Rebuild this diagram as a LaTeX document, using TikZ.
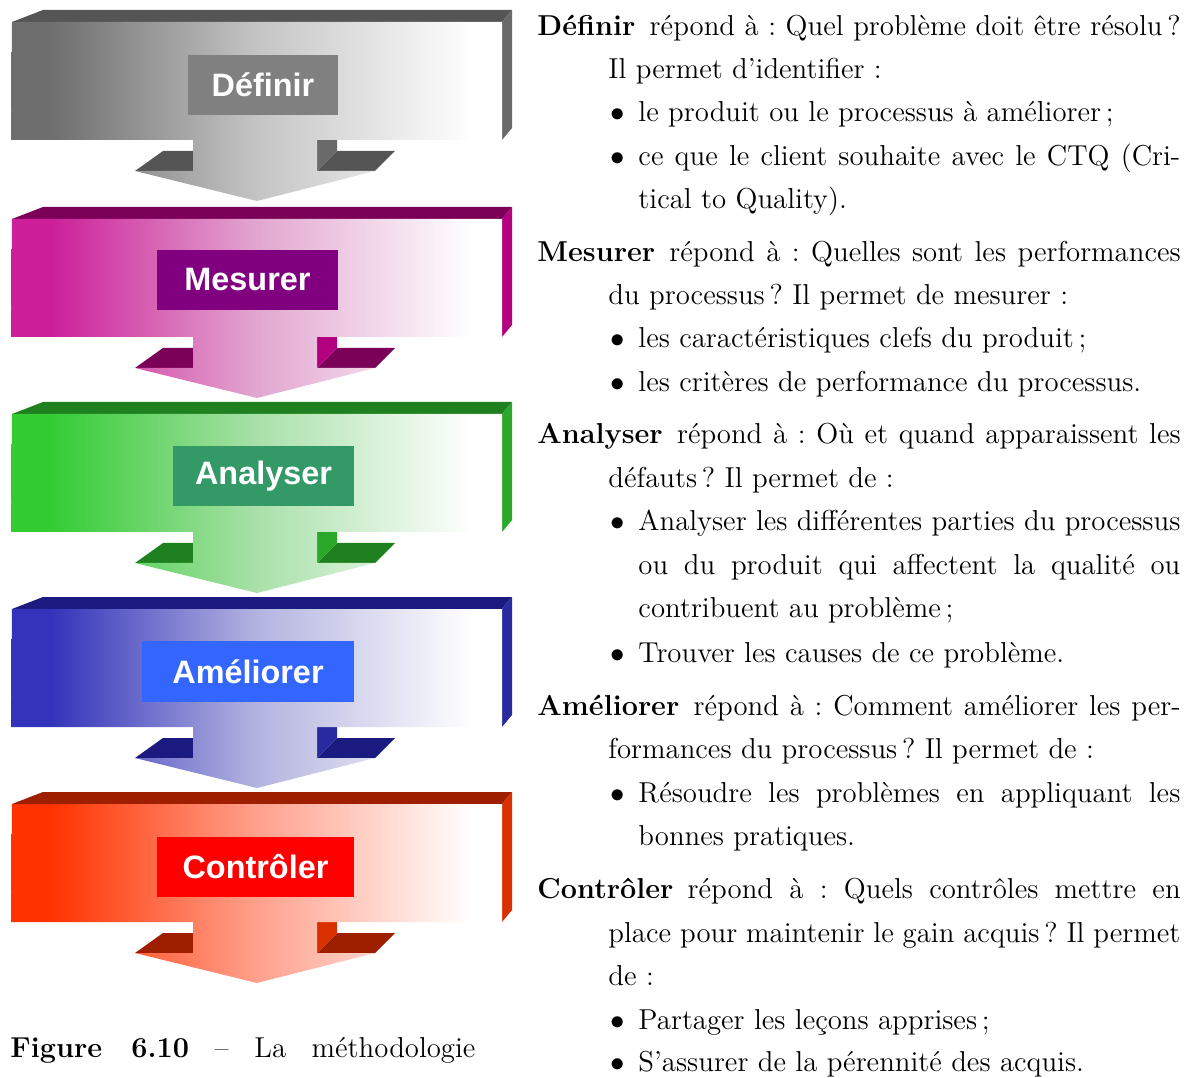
\documentclass[tikz,border=0pt]{standalone}
\usepackage{fontspec}
\newfontfamily\lblfont{Liberation Sans}
\definecolor{dL}{HTML}{6E6E6E}\definecolor{dM}{HTML}{C4C4C4}\definecolor{dT}{HTML}{555555}\definecolor{dS}{HTML}{6A6A6A}\definecolor{dB}{HTML}{808080}
\definecolor{mL}{HTML}{CC1F99}\definecolor{mM}{HTML}{E2A6CF}\definecolor{mT}{HTML}{7A0058}\definecolor{mS}{HTML}{B3007F}\definecolor{mB}{HTML}{800080}
\definecolor{aL}{HTML}{33CC33}\definecolor{aM}{HTML}{A9E0A9}\definecolor{aT}{HTML}{1F801F}\definecolor{aS}{HTML}{29A829}\definecolor{aB}{HTML}{339966}
\definecolor{eL}{HTML}{3333BB}\definecolor{eM}{HTML}{B3B3E0}\definecolor{eT}{HTML}{1A1A80}\definecolor{eS}{HTML}{2A2AA0}\definecolor{eB}{HTML}{3366FF}
\definecolor{cL}{HTML}{FF3300}\definecolor{cM}{HTML}{FFA08C}\definecolor{cT}{HTML}{9E1F00}\definecolor{cS}{HTML}{D93000}\definecolor{cB}{HTML}{FF0000}
\pgfdeclarehorizontalshading{shd}{100bp}{color(0bp)=(dL); color(29bp)=(dL); color(50bp)=(dM); color(72bp)=(white); color(100bp)=(white)}
\pgfdeclarehorizontalshading{shm}{100bp}{color(0bp)=(mL); color(29bp)=(mL); color(50bp)=(mM); color(72bp)=(white); color(100bp)=(white)}
\pgfdeclarehorizontalshading{sha}{100bp}{color(0bp)=(aL); color(29bp)=(aL); color(50bp)=(aM); color(72bp)=(white); color(100bp)=(white)}
\pgfdeclarehorizontalshading{she}{100bp}{color(0bp)=(eL); color(29bp)=(eL); color(50bp)=(eM); color(72bp)=(white); color(100bp)=(white)}
\pgfdeclarehorizontalshading{shc}{100bp}{color(0bp)=(cL); color(29bp)=(cL); color(50bp)=(cM); color(72bp)=(white); color(100bp)=(white)}
% #1 top y, #2 shading, #3 top colour, #4 side colour
\newcommand\dmaicblock[4]{%
  \fill[#3] (12,{#1+12}) -- (43,{#1}) -- (512,{#1}) -- (502,{#1+12}) -- cycle;
  \fill[#4] (502,{#1+12}) -- (512,{#1}) -- (512,{#1+118}) -- (502,{#1+130}) -- cycle;
  \fill[#3] (135,{#1+161}) -- (163,{#1+141}) -- (193,{#1+141}) -- (193,{#1+161}) -- cycle;
  \fill[#3] (317,{#1+161}) -- (337,{#1+141}) -- (395,{#1+141}) -- (375,{#1+161}) -- cycle;
  \fill[#4] (317,{#1+130}) -- (337,{#1+130}) -- (337,{#1+141}) -- (317,{#1+161}) -- cycle;
  \shade[shading=#2] (12,{#1+12}) -- (502,{#1+12}) -- (502,{#1+130}) -- (317,{#1+130})
    -- (317,{#1+161}) -- (375,{#1+161}) -- (257,{#1+191}) -- (135,{#1+161})
    -- (193,{#1+161}) -- (193,{#1+130}) -- (11,{#1+130}) -- cycle;
}
\newcommand\jline[2]{\makebox[#1][s]{#2}}
\tikzset{
  lbl/.style={inner sep=0pt, text=white, font=\lblfont\bfseries\fontsize{13.5}{16}\selectfont},
  txt/.style={anchor=base west, inner sep=0pt, font=\fontsize{12}{18}\selectfont\frenchspacing},
}
\begin{document}
\begin{tikzpicture}[x=0.41667pt, y=-0.41667pt]
\useasboundingbox (0,0) rectangle (1189,1078);
\dmaicblock{10}{shd}{dT}{dS}
\dmaicblock{207}{shm}{mT}{mS}
\dmaicblock{402}{sha}{aT}{aS}
\dmaicblock{597}{she}{eT}{eS}
\dmaicblock{792}{shc}{cT}{cS}
% label boxes
\node[lbl, fill=dB, minimum width=62.5pt, minimum height=25pt] (ldef) at (263,85) {Définir};
\node[lbl, fill=mB, minimum width=75.4pt, minimum height=25pt] (lmes) at (247.5,280) {Mesurer};
\node[lbl, fill=aB, minimum width=75.4pt, minimum height=25pt] (lana) at (263.5,476) {Analyser};
\node[lbl, fill=eB, minimum width=88.3pt, minimum height=25.4pt] (lame) at (248,671.5) {Améliorer};
\node[lbl, fill=cB, minimum width=82.1pt, minimum height=25pt] (lcon) at (255.5,867) {Contrôler};
% caption
\node[txt] (cap) at (10,1057) {\jline{193.75pt}{\textbf{Figure 6.10} – La méthodologie}};
% Définir
\node[txt] (t1) at (537,36) {\jline{268pt}{\textbf{Définir}\hspace{6pt}répond à~: Quel problème doit être résolu\,?}};
\node[txt] (t2) at (608,79) {Il permet d’identifier~:};
\node[txt] (b1) at (610,122) {$\bullet$};
\node[txt] (t3) at (638,122) {le produit ou le processus à améliorer\,;};
\node[txt] (b2) at (610,166) {$\bullet$};
\node[txt] (t4) at (638,166) {\jline{225.8pt}{ce que le client souhaite avec le CTQ (Cri-}};
\node[txt] (t5) at (638,209) {tical to Quality).};
% Mesurer
\node[txt] (t6) at (537,262) {\jline{268pt}{\textbf{Mesurer}\hspace{6pt}répond à~: Quelles sont les performances}};
\node[txt] (t7) at (608,305) {du processus\,? Il permet de mesurer~:};
\node[txt] (b3) at (610,348) {$\bullet$};
\node[txt] (t8) at (638,348) {les caractéristiques clefs du produit\,;};
\node[txt] (b4) at (610,392) {$\bullet$};
\node[txt] (t9) at (638,392) {les critères de performance du processus.};
% Analyser
\node[txt] (t10) at (537,444) {\jline{268pt}{\textbf{Analyser}\hspace{6pt}répond à~: Où et quand apparaissent les}};
\node[txt] (t11) at (608,488) {défauts\,? Il permet de~:};
\node[txt] (b5) at (610,531) {$\bullet$};
\node[txt] (t12) at (638,531) {\jline{225.8pt}{Analyser les différentes parties du processus}};
\node[txt] (t13) at (638,575) {\jline{225.8pt}{ou du produit qui affectent la qualité ou}};
\node[txt] (t14) at (638,618) {contribuent au problème\,;};
\node[txt] (b6) at (610,662) {$\bullet$};
\node[txt] (t15) at (638,662) {Trouver les causes de ce problème.};
% Améliorer
\node[txt] (t16) at (537,715) {\jline{268pt}{\textbf{Améliorer}\hspace{6pt}répond à~: Comment améliorer les per-}};
\node[txt] (t17) at (608,758) {formances du processus\,? Il permet de~:};
\node[txt] (b7) at (610,802) {$\bullet$};
\node[txt] (t18) at (638,802) {\jline{225.8pt}{Résoudre les problèmes en appliquant les}};
\node[txt] (t19) at (638,845) {bonnes pratiques.};
% Contrôler
\node[txt] (t20) at (537,898) {\jline{268pt}{\textbf{Contrôler}\hspace{6pt}répond à~: Quels contrôles mettre en}};
\node[txt] (t21) at (608,942) {\jline{238.3pt}{place pour maintenir le gain acquis\,? Il permet}};
\node[txt] (t22) at (608,985) {de~:};
\node[txt] (b8) at (610,1029) {$\bullet$};
\node[txt] (t23) at (638,1029) {Partager les leçons apprises\,;};
\node[txt] (b9) at (610,1071) {$\bullet$};
\node[txt] (t24) at (638,1071) {S’assurer de la pérennité des acquis.};
\end{tikzpicture}
\end{document}
